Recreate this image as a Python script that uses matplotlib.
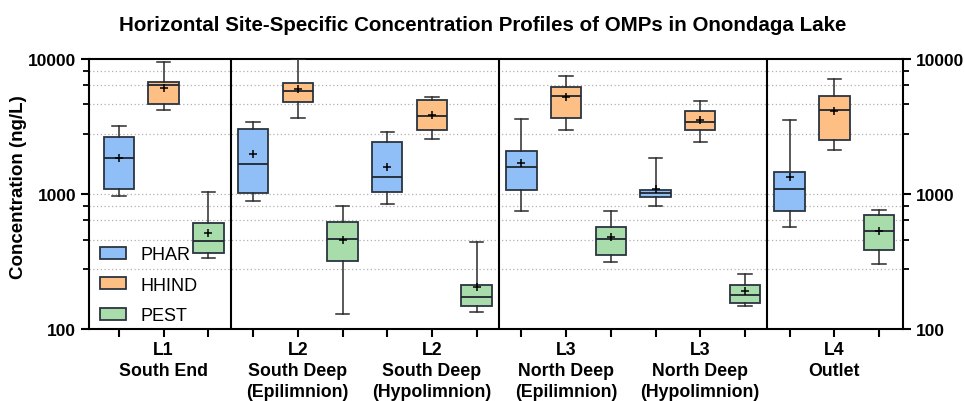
import matplotlib
matplotlib.use("Agg")
import matplotlib.pyplot as plt
from matplotlib.patches import Patch
from matplotlib.ticker import FixedLocator, NullFormatter
import numpy as np

plt.rcParams['font.family'] = ['Liberation Sans', 'DejaVu Sans']

# sites (one label per group of three boxes)
sites = ["L1\nSouth End", "L2\nSouth Deep\n(Epilimnion)", "L2\nSouth Deep\n(Hypolimnion)",
         "L3\nNorth Deep\n(Epilimnion)", "L3\nNorth Deep\n(Hypolimnion)", "L4\nOutlet"]
classes = ["PHAR", "HHIND", "PEST"]

# box stats, ng/L; order: site x class
whislo = [971, 4168, 338,   883, 3675, 129,   843, 2555, 134,
          752, 2980, 312,   820, 2415, 149,   573, 2118, 303]
q1 = [1083, 4666, 364,   1017, 4802, 319,   1029, 2980, 149,
      1064, 3638, 353,   945, 2980, 156,    752, 2500, 383]
med = [1838, 6385, 446,   1660, 5765, 461,   1336, 3760, 172,
       1577, 5350, 464,   1012, 3398, 178,   1083, 4168, 535]
q3 = [2630, 6756, 607,   3030, 6680, 623,   2415, 4943, 211,
      2072, 6235, 567,   1076, 4140, 212,   1456, 5320, 703]
whishi = [3174, 9447, 1035,   3398, 9900, 820,   2864, 5260, 439,
          3573, 7443, 744,   1848, 4910, 255,   3515, 7110, 765]
means = [1850, 6135, 517,   1990, 6025, 458,   1594, 3828, 204,
         1706, 5200, 480,   1089, 3553, 190,   1343, 4140, 535]

colors = {"PHAR": "#8fbff6", "HHIND": "#fdbf83", "PEST": "#a9dcab"}

fig = plt.figure(figsize=(9.65, 4.02), dpi=100)
ax = fig.add_axes([0.0927, 0.179, 0.8428, 0.672])

stats = []
for i in range(len(med)):
    stats.append(dict(whislo=whislo[i], q1=q1[i], med=med[i], q3=q3[i],
                      whishi=whishi[i], mean=means[i], fliers=[]))
pos = np.arange(len(stats))
bp = ax.bxp(stats, positions=pos, widths=0.68, patch_artist=True, showmeans=True,
            showfliers=False,
            boxprops=dict(edgecolor="#2b3440", linewidth=1.3),
            medianprops=dict(color="#1f2730", linewidth=1.3),
            whiskerprops=dict(color="#2b2b2b", linewidth=1.1),
            capprops=dict(color="#2b2b2b", linewidth=1.1),
            meanprops=dict(marker="+", markeredgecolor="black", markersize=6, markeredgewidth=1.1),
            capwidths=0.3, zorder=3)
for i, b in enumerate(bp['boxes']):
    b.set_facecolor(colors[classes[i % 3]])

ax.set_yscale("log")
ax.set_ylim(100, 10000)
ax.set_xlim(-0.66, 17.53)

# Prism style minor ticks: linear steps within each decade
minors = [280, 460, 640, 820, 2800, 4600, 6400, 8200]
ax.yaxis.set_major_locator(FixedLocator([100, 1000, 10000]))
ax.yaxis.set_minor_locator(FixedLocator(minors))
ax.yaxis.set_minor_formatter(NullFormatter())
ax.set_yticklabels(["100", "1000", "10000"])
for g in minors + [1000]:
    ax.axhline(g, color="#b0b0b0", linestyle=(0, (1, 2)), linewidth=0.9, zorder=0)

for sep in [2.5, 8.5, 14.5]:
    ax.axvline(sep, color="black", linewidth=1.5, zorder=2)

ax.set_xticks(pos)
ax.set_xticklabels([])
for k, s in enumerate(sites):
    ax.text(3 * k + 1, -0.045, s, ha="center", va="top", fontsize=12.8, fontweight="bold",
            linespacing=1.3, transform=ax.get_xaxis_transform())

ax.tick_params(axis="both", which="major", length=6, width=1.5, direction="out")
ax.tick_params(axis="y", which="minor", length=4, width=1.3, direction="out")
ax.tick_params(axis="y", labelsize=12.5, right=True, labelright=True, which="both")
for lab in ax.get_yticklabels():
    lab.set_fontweight("bold")
for sp in ax.spines.values():
    sp.set_linewidth(1.5)

ax.set_ylabel("Concentration (ng/L)", fontsize=13.5, fontweight="bold")
ax.yaxis.set_label_coords(-0.077, 0.53)
fig.suptitle("Horizontal Site-Specific Concentration Profiles of OMPs in Onondaga Lake",
             fontsize=14.8, fontweight="bold", x=0.5, y=0.96)

handles = [Patch(facecolor=colors[c], edgecolor="#2b3440", linewidth=1.3, label=c) for c in classes]
ax.legend(handles=handles, loc="lower left", frameon=False, fontsize=13,
          handlelength=1.4, handleheight=0.65, handletextpad=0.85, labelspacing=0.75,
          borderaxespad=0.2, bbox_to_anchor=(0.0, -0.022))

fig.savefig("out.png", dpi=100)
